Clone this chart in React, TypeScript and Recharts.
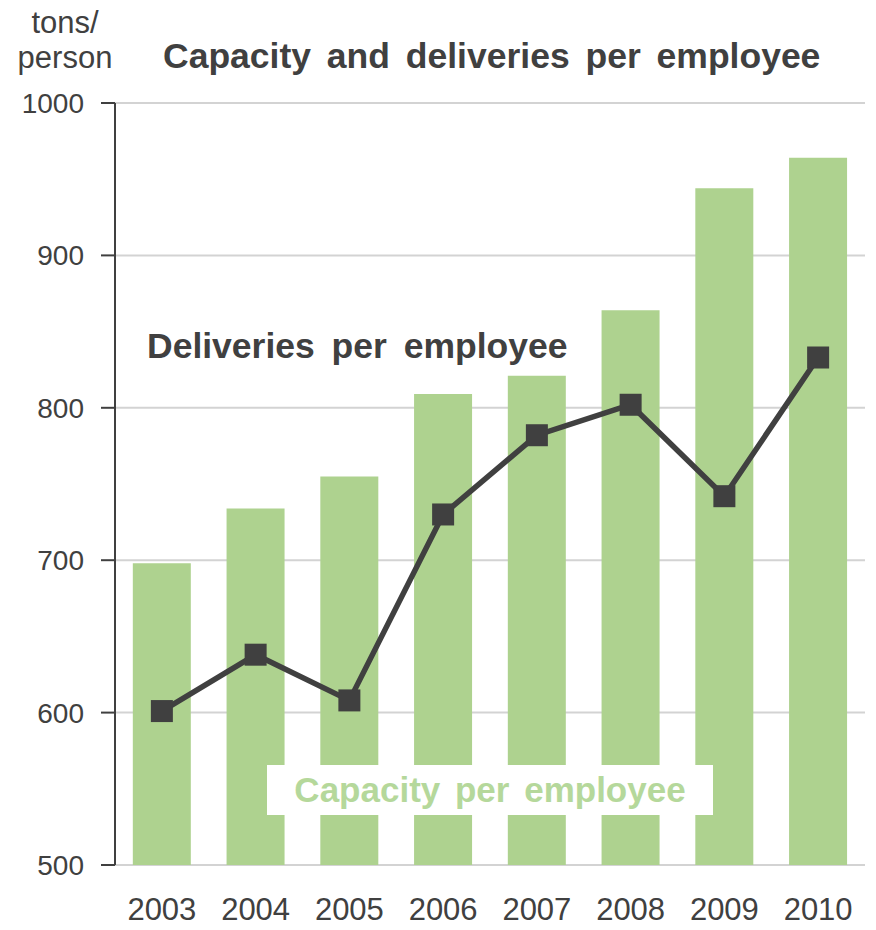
import React from 'react';
import {
  ComposedChart,
  Bar,
  Line,
  XAxis,
  YAxis,
  CartesianGrid,
} from 'recharts';

const years = ['2003', '2004', '2005', '2006', '2007', '2008', '2009', '2010'];
const capacityPerEmployee = [698, 734, 755, 809, 821, 864, 944, 964];
const deliveriesPerEmployee = [601, 638, 608, 730, 782, 802, 742, 833];
const yTicks = [500, 600, 700, 800, 900, 1000];
const frameTicks = [0, 4, 8];

const data = years.map((year, i) => ({
  year,
  capacity: capacityPerEmployee[i],
  deliveries: deliveriesPerEmployee[i],
}));

const INK = '#404040';
const GREEN = '#aed28f';
const FONT = '"Liberation Sans", Arial, sans-serif';

const SquareDot = (props: any) => {
  const { cx, cy } = props;
  if (cx == null || cy == null) return null;
  const s = 22;
  return <rect x={cx - s / 2} y={cy - s / 2} width={s} height={s} fill={INK} />;
};

export default function App() {
  return (
    <div
      style={{
        position: 'absolute',
        left: 0,
        top: 0,
        width: 876,
        height: 930,
        background: '#fff',
        fontFamily: FONT,
      }}
    >
      <ComposedChart
        width={876}
        height={930}
        data={data}
        margin={{ top: 103, right: 11, left: 0, bottom: 0 }}
        barCategoryGap="19%"
      >
        <CartesianGrid
          xAxisId="cat"
          vertical={false}
          stroke="#d3d3d3"
          strokeWidth={2}
        />
        <XAxis
          xAxisId="frame"
          type="number"
          domain={[0, 8]}
          ticks={frameTicks}
          height={0}
          tickSize={11}
          tickFormatter={() => ''}
          axisLine={{ stroke: INK, strokeWidth: 2 }}
          tickLine={{ stroke: INK, strokeWidth: 2 }}
        />
        <XAxis
          xAxisId="cat"
          dataKey="year"
          height={65}
          axisLine={false}
          tickLine={false}
          tickSize={0}
          tickMargin={33}
          tick={{ fill: INK, fontSize: 31, fontFamily: FONT }}
        />
        <YAxis
          width={115}
          domain={[500, 1000]}
          ticks={yTicks}
          interval={0}
          tickSize={14}
          tickMargin={17}
          axisLine={{ stroke: INK, strokeWidth: 2 }}
          tickLine={{ stroke: INK, strokeWidth: 2 }}
          tick={{ fill: INK, fontSize: 28, fontFamily: FONT }}
        />
        <Bar
          xAxisId="cat"
          dataKey="capacity"
          fill={GREEN}
          isAnimationActive={false}
        />
        <Line
          xAxisId="cat"
          dataKey="deliveries"
          stroke={INK}
          strokeWidth={5.5}
          dot={<SquareDot />}
          activeDot={false}
          isAnimationActive={false}
        />
      </ComposedChart>

      <div
        style={{
          position: 'absolute',
          left: 0,
          top: 5,
          width: 130,
          textAlign: 'center',
          fontSize: 31,
          lineHeight: '35px',
          color: INK,
        }}
      >
        tons/
        <br />
        person
      </div>

      <div
        style={{
          position: 'absolute',
          left: 163,
          top: 38,
          fontSize: 35.5,
          lineHeight: '36px',
          fontWeight: 'bold',
          color: INK,
          wordSpacing: 6,
          whiteSpace: 'nowrap',
        }}
      >
        Capacity and deliveries per employee
      </div>

      <div
        style={{
          position: 'absolute',
          left: 147,
          top: 328,
          fontSize: 35.5,
          lineHeight: '36px',
          fontWeight: 'bold',
          color: INK,
          wordSpacing: 7,
          whiteSpace: 'nowrap',
        }}
      >
        Deliveries per employee
      </div>

      <div
        style={{
          position: 'absolute',
          left: 267,
          top: 765,
          width: 446,
          height: 50,
          background: '#fff',
          display: 'flex',
          alignItems: 'center',
          justifyContent: 'center',
          fontSize: 35,
          fontWeight: 'bold',
          color: '#b5d89b',
          wordSpacing: 5,
          whiteSpace: 'nowrap',
        }}
      >
        Capacity per employee
      </div>
    </div>
  );
}
